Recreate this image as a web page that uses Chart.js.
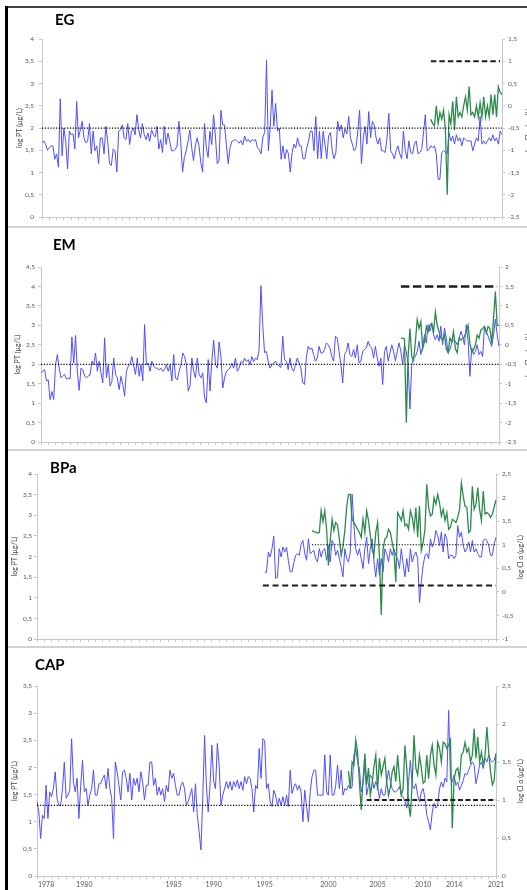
<!DOCTYPE html>
<html><head><meta charset="utf-8">
<script src="https://cdn.jsdelivr.net/npm/chart.js@4.4.1/dist/chart.umd.min.js"></script>
<style>
html,body{margin:0;padding:0;background:#fff;width:527px;height:890px;overflow:hidden;position:relative;font-family:Lato,'Liberation Sans',sans-serif}
canvas{position:absolute;left:0}
.ttl{position:absolute;font-weight:bold;font-size:15px;color:#000;line-height:1;white-space:nowrap}
.rt{position:absolute;font-size:7px;color:#404040;transform:translate(-50%,-50%) rotate(-90deg);white-space:nowrap;line-height:1}
.sep{position:absolute;left:8px;width:519px;height:2px;background:#d2d2d2}
</style></head><body>
<div style="position:absolute;left:5px;top:6px;width:522px;height:1.5px;background:#444"></div>
<div style="position:absolute;left:5px;top:6px;width:3px;height:884px;background:#000"></div>
<div class="sep" style="top:226px"></div>
<div class="sep" style="top:449px"></div>
<div class="sep" style="top:646px"></div>
<canvas id="c0" width="545" height="218" style="top:8px"></canvas>
<canvas id="c1" width="545" height="221" style="top:228px"></canvas>
<canvas id="c2" width="545" height="195" style="top:451px"></canvas>
<canvas id="c3" width="545" height="242" style="top:648px"></canvas>
<div class="ttl" style="left:55px;top:12px">EG</div>
<div class="ttl" style="left:53px;top:237px">EM</div>
<div class="ttl" style="left:50px;top:460px">BPa</div>
<div class="ttl" style="left:35px;top:657px">CAP</div>
<div class="rt" style="left:528px;top:130px">log Cl α (µg/L)</div>
<div class="rt" style="left:528px;top:355px">log Cl α (µg/L)</div>
<div class="rt" style="left:520px;top:557px">log Cl α (µg/L)</div>
<div class="rt" style="left:520px;top:781px">log Cl α (µg/L)</div>
<script>
// ---- categories (sampling dates, 1978 -> 2021) ----
const N = 253;
const yearLabels = ['1978','1980','1985','1990','1995','2000','2005','2010','2014','2021'];
const yearIndex  = [5, 26, 75, 97, 125, 160, 187, 212, 229, 252];

// ---- EG ----
const egPT = [1.67,1.71,1.63,1.5,1.56,1.6,1.6,1.3,1.42,1.12,2.66,1.38,2.0,1.7,1.08,1.93,1.85,1.87,1.53,2.6,
1.78,1.96,2.15,1.78,1.67,1.7,2.1,1.42,1.93,1.49,1.6,1.2,1.78,1.78,1.42,2.04,1.7,1.2,1.16,1.53,
1.49,1.01,1.93,1.96,2.07,1.78,1.74,2.1,1.63,1.93,2.0,1.85,2.3,1.96,1.78,2.1,1.85,1.74,1.89,1.7,
1.96,1.85,1.8,2.04,1.53,1.74,1.45,2.04,1.63,1.89,1.7,1.49,1.49,1.52,1.6,2.15,1.7,1.01,1.34,1.49,
1.7,1.96,1.56,1.27,1.6,1.78,1.6,1.23,1.01,2.1,1.56,1.34,1.93,1.63,2.3,1.82,1.2,1.27,2.4,2.07,
2.07,1.63,1.2,1.56,1.7,1.72,1.74,1.7,1.66,1.72,1.62,1.82,1.7,1.75,1.68,1.74,1.72,1.74,1.56,1.52,
1.42,1.8,
1.9,3.52,1.49,2.0,2.85,2.04,2.55,1.93,2.0,1.3,1.6,1.31,1.52,1.42,1.01,1.45,1.64,1.55,1.78,1.6,
1.6,1.31,1.31,1.55,1.7,1.93,1.93,1.49,2.26,1.31,1.93,1.31,1.93,1.64,1.31,1.82,1.9,1.49,1.31,1.45,
2.15,1.93,2.07,1.78,1.98,1.87,2.26,1.78,1.64,1.49,1.55,1.93,2.4,1.2,1.78,2.04,1.64,2.37,1.78,2.15,
2.07,1.78,1.64,1.78,1.49,1.49,1.45,1.78,2.33,1.49,1.42,1.31,1.49,1.6,1.42,1.31,1.93,1.49,1.31,1.71,
1.45,1.42,1.64,1.71,1.42,1.45,1.52,1.89,2.3,1.49,1.52,1.6,1.56,1.6,1.42,0.85,0.85,1.45,1.49,1.45,
1.42,1.89,1.71,1.82,1.64,1.85,1.71,1.78,1.6,1.78,1.74,1.71,1.71,1.71,1.49,1.64,1.78,1.71,2.26,1.64,
1.71,1.64,1.71,1.78,1.71,1.85,1.71,1.78,1.64,1.93,1.85];
const egChlStart = 213;
const egChl = [-0.3,-0.4,-0.45,0.0,-0.4,-0.15,-0.3,-0.1,-0.55,-2.0,-0.2,-0.4,0.1,-0.55,0.2,-0.25,-0.15,-0.25,0.0,0.2,
-0.1,0.43,-0.2,-0.15,-0.25,0.0,-0.25,0.07,-0.25,0.2,-0.25,0.0,-0.25,0.25,-0.2,0.25,-0.25,0.43,0.3,0.25];
const egPTRef = 2.0, egChlRef = 1.0;

// ---- EM ----
const emPT = [1.78,1.82,1.86,1.57,1.6,1.09,1.3,1.09,1.99,2.25,1.9,1.65,1.7,1.74,1.62,1.65,1.62,2.7,2.03,2.74,
1.82,1.33,1.9,1.86,1.7,1.65,1.7,1.72,2.08,1.99,2.29,1.82,2.08,1.78,1.52,2.68,1.65,1.99,1.44,1.56,
2.16,1.74,1.65,1.35,1.69,1.48,1.18,1.82,1.95,1.99,2.2,1.95,1.74,2.16,1.69,1.99,1.57,3.02,1.99,2.03,
1.82,2.08,1.95,1.9,1.9,1.86,1.9,1.82,1.86,1.99,1.82,1.99,1.57,2.25,1.65,1.6,1.82,1.99,2.29,2.2,
1.99,1.31,1.44,2.16,1.82,1.65,2.16,1.74,1.65,1.78,1.14,1.01,2.12,1.31,2.08,2.62,2.0,1.9,2.57,2.2,
1.39,1.65,1.82,1.86,1.9,2.03,1.9,2.16,1.82,1.9,2.07,2.03,2.16,2.07,2.12,1.99,2.2,2.07,2.16,2.12,
2.38,4.02,3.02,
2.3,2.33,2.08,1.9,1.99,2.03,2.08,1.99,1.95,1.92,2.72,2.12,2.08,1.86,2.16,1.9,1.82,1.99,2.16,2.03,
1.9,1.52,1.48,2.16,2.46,2.38,2.42,2.25,2.08,2.16,2.46,2.29,2.29,2.38,2.55,2.5,2.42,2.2,2.08,2.72,
2.67,2.33,1.99,1.52,2.25,2.33,2.55,2.25,2.2,2.38,2.16,2.5,2.03,2.08,2.33,2.38,2.42,2.59,2.46,2.42,
2.16,2.46,2.16,1.95,2.16,1.48,2.33,2.46,2.08,2.29,2.5,2.33,2.08,2.33,2.55,2.33,1.99,2.5,2.33,1.99,
0.85,1.99,2.16,2.2,2.33,2.59,2.25,2.46,2.76,2.55,3.02,2.85,3.02,2.76,2.63,2.76,2.59,2.98,2.5,2.93,
2.67,2.29,2.38,2.55,2.63,2.59,2.5,2.63,2.85,2.72,2.5,3.02,2.59,1.69,2.42,2.25,2.33,2.5,2.25,2.33,
2.2,2.98,2.85,2.72,2.59,2.46,2.76,3.16,2.76,2.46];
const emChlStart = 198;
const emChl = [0.17,0.17,0.15,-2.0,-0.3,0.42,-0.3,-0.4,0.08,0.65,0.42,0.6,-0.1,0.08,0.47,0.34,0.5,0.55,0.34,0.84,
0.5,0.34,0.17,0.12,0.25,-0.1,-0.2,0.17,0.08,0.34,-0.1,-0.2,0.17,0.12,0.17,0.21,0.34,0.5,0.03,-0.2,
-0.12,0.0,0.25,0.17,0.38,0.42,0.47,0.3,0.47,0.42,0.03,0.68,1.37,0.5,0.5];
const emPTRef = 2.0, emChlRef = 1.5;

// ---- BPa ----
const bpaPTStart = 125;
const bpaPT = [1.62,1.62,2.11,1.99,2.19,2.49,1.47,1.5,2.19,1.99,2.23,2.11,2.23,1.9,1.63,1.63,1.85,2.03,2.07,2.03,
2.3,2.39,2.07,1.91,2.43,2.07,2.11,2.15,1.95,1.87,2.19,1.99,2.15,2.19,1.91,2.27,1.87,2.39,2.31,2.03,
2.15,1.95,1.75,1.51,2.19,1.95,1.87,2.11,3.51,2.75,2.19,2.03,2.19,1.95,1.71,2.19,2.47,1.83,2.19,2.43,
1.87,1.51,1.95,1.55,1.95,1.63,2.19,2.07,1.87,2.19,2.03,2.19,2.03,1.95,1.71,2.19,1.83,1.51,1.95,1.63,
2.19,1.87,2.03,2.11,1.95,0.88,1.39,1.79,2.03,2.07,1.95,2.43,2.23,2.35,2.63,2.51,2.27,2.59,2.11,2.55,
2.43,1.95,2.03,2.03,1.95,2.03,2.75,2.47,2.59,2.27,2.11,2.19,2.35,2.11,2.39,2.11,2.19,2.07,1.99,1.99,
2.39,2.43,2.39,2.27,2.03,2.03,2.31,2.47];
const bpaChlStart = 151;
const bpaChl = [1.3,1.28,1.27,1.25,1.26,1.72,1.49,1.72,1.33,0.56,1.09,1.54,1.3,1.47,1.42,1.12,0.77,0.98,1.3,1.79,
2.07,2.07,1.54,1.47,1.4,1.33,1.26,1.16,1.54,1.26,1.72,1.51,1.19,0.91,0.77,1.26,1.47,0.77,-0.49,0.91,
1.12,1.16,1.33,1.26,1.05,0.84,0.21,1.68,1.61,1.51,1.72,1.4,1.44,1.33,1.72,1.58,1.33,1.79,1.16,1.82,
0.88,1.05,1.33,2.28,1.79,1.61,1.65,2.0,1.86,2.07,1.89,1.61,1.75,1.51,1.68,1.33,1.37,1.54,1.51,1.47,
1.58,1.75,2.31,2.03,1.82,1.79,1.26,1.3,2.24,1.75,1.86,2.21,1.75,1.51,2.14,1.65,1.68,1.65,1.58,1.65,
1.8,1.95];
const bpaPTRef = 1.3, bpaChlRef = 1.0;

// ---- CAP ----
const capPT = [1.37,1.18,0.69,1.12,1.06,1.67,1.06,1.55,1.46,1.61,1.92,1.43,1.3,1.3,1.61,2.1,1.43,1.49,1.58,2.53,
1.73,1.55,1.8,1.06,1.67,2.13,1.55,1.61,1.3,1.49,1.61,1.95,1.49,1.49,1.7,1.7,1.8,1.86,1.61,1.98,
1.61,1.43,0.69,2.1,1.92,1.67,1.4,1.92,1.95,1.8,1.55,1.89,1.4,1.8,1.67,1.8,1.55,1.92,1.73,1.4,
1.67,1.67,2.1,2.1,1.67,1.8,1.49,1.64,1.49,1.61,1.37,1.67,1.55,1.95,1.8,1.89,1.67,1.49,1.49,1.67,
1.73,1.61,1.3,1.37,1.49,1.61,1.18,1.7,1.12,0.82,0.48,1.43,2.59,1.67,1.18,1.67,2.41,1.74,1.61,2.44,
2.04,1.3,1.49,1.61,1.74,1.61,1.74,1.58,1.74,1.64,1.77,1.61,1.74,1.58,1.83,1.7,1.83,1.8,1.61,1.18,
1.67,1.61,2.35,1.8,2.53,
2.5,1.61,1.7,1.37,1.28,1.58,1.49,1.3,1.43,1.3,1.46,1.3,1.49,1.28,1.95,1.52,1.64,1.7,1.58,1.67,
1.55,1.0,1.58,1.28,1.0,1.55,1.83,1.95,1.95,1.49,1.49,1.49,1.49,2.23,1.55,1.49,2.23,1.49,1.49,1.67,
2.04,1.61,1.95,1.49,1.61,1.58,1.67,1.61,1.64,2.23,2.35,2.1,1.98,1.55,1.7,2.04,1.49,1.67,1.86,1.8,
1.61,1.74,1.64,1.43,1.61,1.49,1.49,1.74,1.95,1.74,1.61,1.55,1.55,1.58,1.65,1.49,1.46,1.37,1.25,1.74,
2.13,1.67,1.61,1.7,1.49,1.37,1.55,1.61,1.43,1.12,1.0,0.85,1.18,1.34,1.25,1.31,1.61,1.73,1.64,1.8,
1.73,3.05,1.8,1.73,1.86,1.67,1.73,1.58,1.67,1.76,1.89,1.86,1.95,2.04,2.1,2.04,1.7,1.86,2.04,2.1,
1.98,2.17,2.1,2.23,2.13,2.1,2.13,2.26];
const capChlStart = 171;
const capChl = [1.38,1.15,1.5,1.46,1.79,1.63,1.24,0.87,1.26,1.61,1.2,1.42,1.06,1.22,1.44,1.59,1.13,1.55,1.33,1.44,
1.55,1.24,1.06,1.17,1.37,1.44,1.24,1.59,1.29,1.06,1.15,1.72,1.42,0.95,0.78,1.24,1.85,1.42,1.33,1.59,
1.42,1.22,1.24,1.59,1.28,1.59,1.72,1.46,1.33,1.76,1.68,1.5,1.76,1.74,1.68,1.72,1.79,0.63,1.28,1.39,
1.42,1.28,1.59,1.63,1.76,1.63,1.68,1.5,1.59,1.94,1.55,1.83,1.5,1.63,1.46,1.59,1.96,1.63,1.37,1.2,
1.26,1.61];
const capPTRef = 1.3, capChlRef = 1.0;

// ---- helpers ----
const categories = Array.from({length: N}, (_, i) => { const k = yearIndex.indexOf(i); return k >= 0 ? yearLabels[k] : ''; });
const pad = (start, arr) => Array(start).fill(null).concat(arr);
const ref = (v, from, to) => Array.from({length: N}, (_, i) => (i >= from && i <= to) ? v : null);
const fmt = v => String(Math.round(v * 10) / 10).replace('.', ',');
const BLUE = '#4f4fff', GREEN = '#2b8a4c', AXC = '#c9c9c9', TXT = '#595959', FONT = 'Lato, "Liberation Sans", sans-serif';
const CW = 545;

const panels = [
  {id:'c0', h:218, T:31, B:213, L:42, R:502, yMin:0, yMax:4, y2Min:-2.5, y2Max:1.5, pt:egPT, chl:pad(egChlStart, egChl),
   dot:{axis:'y', data:ref(egPTRef,0,252)}, dash:{axis:'y2', data:ref(egChlRef,213,251), pat:[5.5,3], w:2},
   titleX:20, lpad:5, labels:false},
  {id:'c1', h:221, T:39, B:215, L:41, R:499, yMin:0, yMax:4.5, y2Min:-2.5, y2Max:2, pt:emPT, chl:pad(emChlStart, emChl),
   dot:{axis:'y', data:ref(emPTRef,0,252)}, dash:{axis:'y2', data:ref(emChlRef,198,251), pat:[8.5,3.5], w:2.5},
   titleX:18, lpad:3, labels:false},
  {id:'c2', h:195, T:23, B:191, L:37, R:496, yMin:0, yMax:4, y2Min:-1, y2Max:2.5, pt:pad(bpaPTStart, bpaPT), chl:pad(bpaChlStart, bpaChl),
   dot:{axis:'y2', data:ref(bpaChlRef,151,252)}, dash:{axis:'y', data:ref(bpaPTRef,124,252), pat:[6,3.7], w:2},
   titleX:15, lpad:2, labels:false},
  {id:'c3', h:242, T:38, B:228, L:37, R:496, yMin:0, yMax:3.5, y2Min:0, y2Max:2.5, pt:capPT, chl:pad(capChlStart, capChl),
   dot:{axis:'y', data:ref(capPTRef,0,252)}, dash:{axis:'y2', data:ref(capChlRef,181,252), pat:[5,2.6], w:2},
   titleX:14.5, lpad:2, labels:true}
];

panels.forEach(p => {
  const xH = p.h - p.B;
  const scales = {
    x: {type:'category', labels: categories, offset:false,
        grid:{display:true, drawOnChartArea:false, drawTicks:true, tickLength:3, color:AXC, lineWidth:1},
        border:{display:true, color:AXC, width:1},
        ticks:{autoSkip:false, maxRotation:0, minRotation:0, padding:0, font:{size:2}, callback:(v,i) => i % 4 === 0 ? '' : null},
        afterFit: s => { s.height = p.labels ? 3 : xH; }},
    y: {type:'linear', position:'left', min:p.yMin, max:p.yMax,
        grid:{drawOnChartArea:false, drawTicks:true, tickLength:3, color:AXC},
        border:{display:true, color:AXC, width:1},
        ticks:{stepSize:0.5, padding:p.lpad, color:TXT, font:{family:FONT, size:6.5}, callback:v => fmt(v)},
        title:{display:true, text:'log PT (µg/L)', color:'#404040', font:{family:FONT, size:7}, padding:{top:p.titleX - 4.2, bottom:0}},
        afterFit: s => { s.width = p.L; }},
    y2: {type:'linear', position:'right', min:p.y2Min, max:p.y2Max,
        grid:{drawOnChartArea:false, drawTicks:true, tickLength:3, color:AXC},
        border:{display:true, color:AXC, width:1},
        ticks:{stepSize:0.5, padding:3, color:TXT, font:{family:FONT, size:6.5}, callback:v => fmt(v)},
        afterFit: s => { s.width = CW - p.R; }}
  };
  if (p.labels) {
    scales.xl = {type:'category', labels: categories, offset:false, position:'bottom',
      grid:{display:false, drawTicks:false, tickLength:0}, border:{display:false},
      ticks:{autoSkip:false, maxRotation:0, minRotation:0, padding:2, color:TXT, font:{family:FONT, size:7},
             callback:(v,i) => categories[i] ? categories[i] : null},
      afterFit: s => { s.height = xH - 3; }};
  }
  new Chart(document.getElementById(p.id), {
    type:'line',
    data:{labels: categories, datasets:[
      {data:p.pt, yAxisID:'y', borderColor:BLUE, borderWidth:1, order:3},
      {data:p.chl, yAxisID:'y2', borderColor:GREEN, borderWidth:1.3, order:2},
      {data:p.dot.data, yAxisID:p.dot.axis, borderColor:'#000', borderWidth:1.2, borderDash:[1.2,1.6], order:1},
      {data:p.dash.data, yAxisID:p.dash.axis, borderColor:'#1c1c1c', borderWidth:p.dash.w, borderDash:p.dash.pat, order:0}
    ]},
    options:{
      responsive:false, animation:false, events:[], devicePixelRatio:1,
      layout:{padding:{left:0, right:0, top:p.T, bottom:0}},
      elements:{point:{radius:0}, line:{tension:0, fill:false, borderCapStyle:'butt'}},
      spanGaps:false,
      plugins:{legend:{display:false}, tooltip:{enabled:false}, title:{display:false}},
      scales
    }
  });
});
</script>
</body></html>
